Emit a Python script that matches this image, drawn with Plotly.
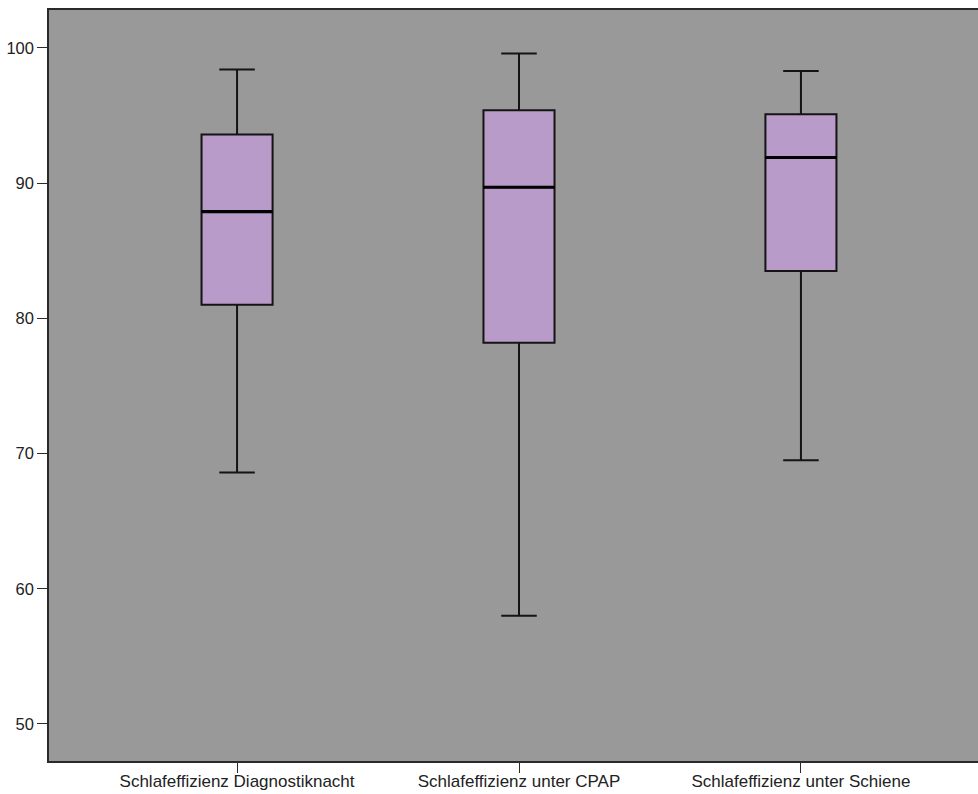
import plotly.graph_objects as go

# Schlafeffizienz (%) – Kennwerte der drei Bedingungen
categories = ["Schlafeffizienz Diagnostiknacht",
              "Schlafeffizienz unter CPAP",
              "Schlafeffizienz unter Schiene"]
positions = [0, 1, 2]
lower_whisker = [68.6, 58.0, 69.5]
q1 = [81.0, 78.2, 83.5]
median = [87.9, 89.7, 91.9]
q3 = [93.6, 95.4, 95.1]
upper_whisker = [98.4, 99.6, 98.3]

y_ticks = [50, 60, 70, 80, 90, 100]

BOX_WIDTH = 0.252
FILL = "#b89bc8"
BG = "#999999"

fig = go.Figure()

fig.add_trace(go.Box(
    x=positions,
    q1=q1, median=median, q3=q3,
    lowerfence=lower_whisker, upperfence=upper_whisker,
    width=BOX_WIDTH,
    whiskerwidth=0.5,
    fillcolor=FILL,
    line=dict(color="#141414", width=2),
    boxpoints=False,
    hoverinfo="skip",
    showlegend=False,
))

# thicker median bars drawn on top of the boxes
for p, m in zip(positions, median):
    fig.add_trace(go.Scatter(
        x=[p - BOX_WIDTH / 2, p + BOX_WIDTH / 2], y=[m, m],
        mode="lines", line=dict(color="black", width=3.2),
        hoverinfo="skip", showlegend=False,
    ))

family = "Liberation Sans, Arial, sans-serif"
xfont = dict(family=family, size=17, color="#222222")
yfont = dict(family=family, size=16.5, color="#222222")

fig.update_layout(
    width=978, height=794,
    margin=dict(l=49, r=0, t=10, b=33),
    paper_bgcolor="white",
    plot_bgcolor=BG,
    font=yfont,
    xaxis=dict(
        range=[-0.667, 2.628],
        tickmode="array", tickvals=positions, ticktext=categories,
        showgrid=False, zeroline=False, automargin=False,
        showline=True, linecolor="#2a2a2a", linewidth=1.5, mirror=True,
        ticks="outside", ticklen=10, tickcolor="#2a2a2a", tickwidth=1,
        ticklabelstandoff=-6,
        tickfont=xfont,
    ),
    yaxis=dict(
        range=[47.26, 102.81],
        tickmode="array", tickvals=y_ticks,
        showgrid=False, zeroline=False, automargin=False,
        showline=True, linecolor="#2a2a2a", linewidth=1.5,
        ticks="outside", ticklen=10, tickcolor="#2a2a2a", tickwidth=1,
        tickfont=yfont,
    ),
)

fig.write_html("out.html")
